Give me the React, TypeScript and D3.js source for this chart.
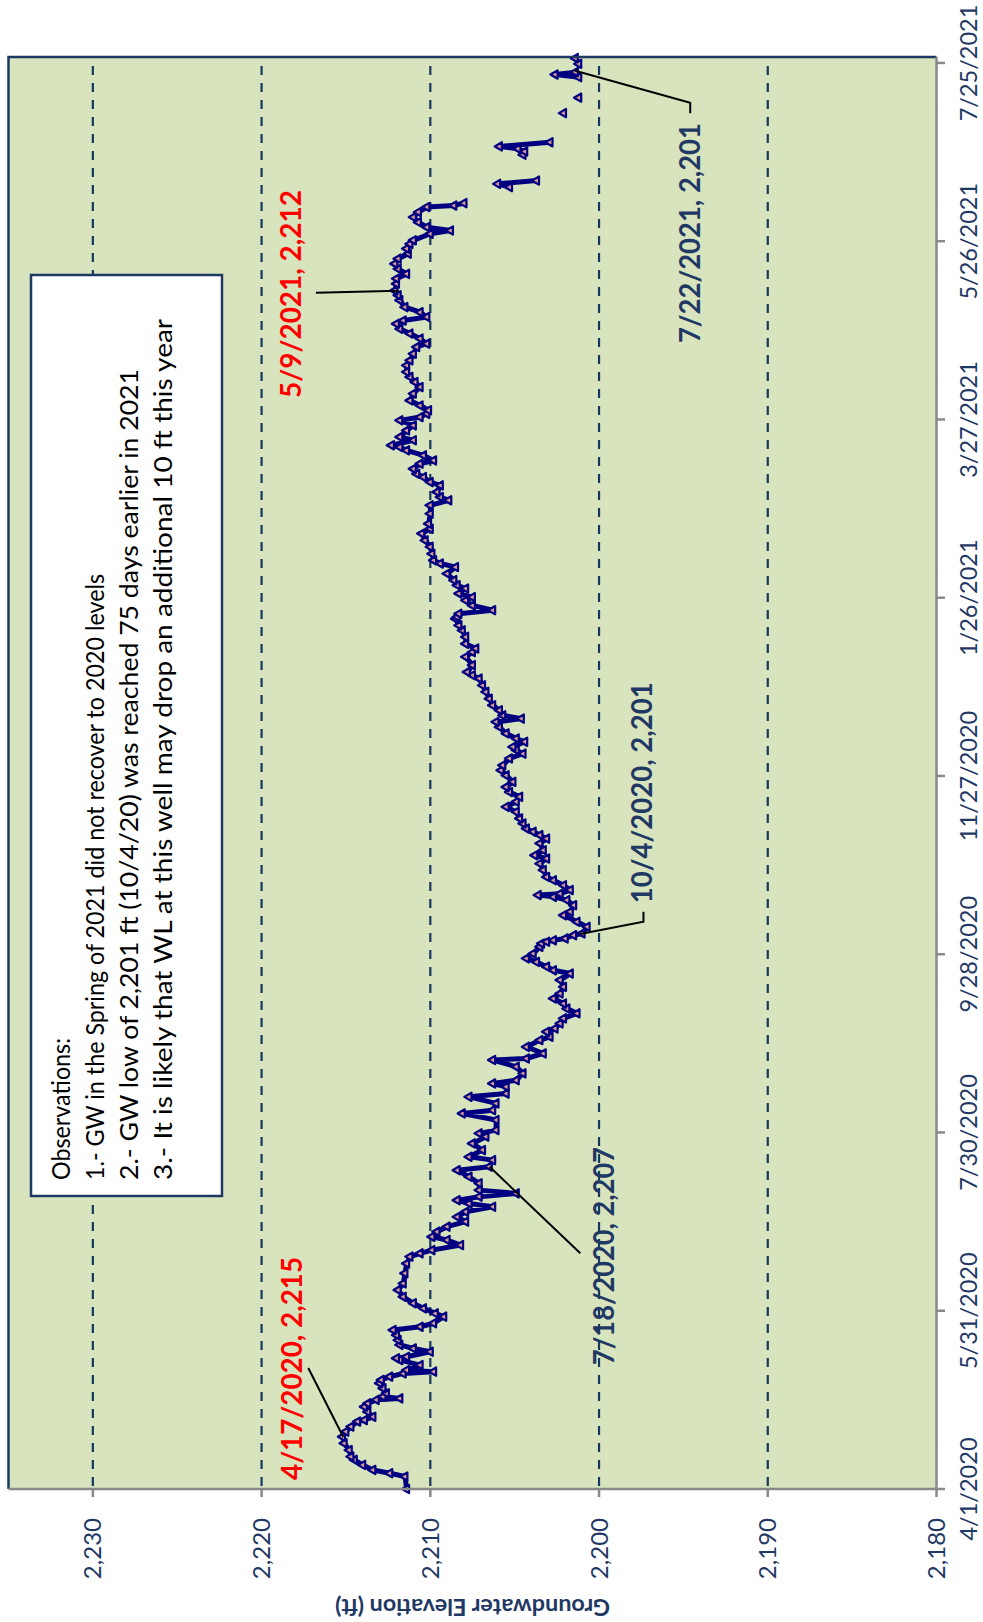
import React from "react";
import * as d3 from "d3";

// Readings: [days since START, groundwater elevation (ft)]
const START = "2020-04-01";

const readingsSpringSummer2020: [number, number][] = [
  [0, 2211.4], [4.2, 2211.5], [5.3, 2212.4], [6.4, 2213.4], [8.1, 2214.0], [9.8, 2214.5], [10.9, 2214.7],
  [13.1, 2214.8], [15.4, 2215.1], [17.6, 2215.2], [19.3, 2215.0], [21.0, 2214.7], [22.7, 2214.3], [23.2, 2213.9],
  [24.3, 2213.4], [26.0, 2213.7], [27.7, 2213.9], [28.8, 2213.7], [30.0, 2213.2], [30.5, 2211.8], [31.1, 2212.8],
  [32.2, 2212.6], [33.9, 2212.8], [35.6, 2213.0], [36.7, 2212.9], [37.8, 2212.4], [38.9, 2211.6], [39.5, 2209.8],
  [40.0, 2211.4], [41.7, 2210.6], [43.4, 2211.8], [44.0, 2212.0], [44.5, 2211.4], [46.2, 2210.0], [47.3, 2211.0],
  [48.5, 2211.8], [50.1, 2211.9], [51.8, 2212.0], [53.5, 2212.2], [54.6, 2210.6], [55.8, 2209.8], [58.0, 2209.2],
  [59.1, 2209.7], [60.8, 2210.4], [62.5, 2211.0], [64.7, 2211.6], [67.0, 2211.9], [69.2, 2211.6], [72.6, 2211.5],
  [75.9, 2211.4], [78.2, 2211.2], [79.3, 2210.6], [80.4, 2209.9], [82.1, 2208.2], [83.8, 2209.0], [84.9, 2209.9],
  [86.6, 2209.6], [88.3, 2209.0], [90.0, 2207.9], [91.6, 2208.4], [93.3, 2207.9], [95.0, 2206.3], [96.1, 2207.7],
  [97.2, 2208.4], [98.4, 2207.1], [99.5, 2204.9], [100.6, 2207.1], [102.9, 2207.1], [105.1, 2207.7], [107.3, 2208.4],
  [108.5, 2206.5], [110.7, 2206.3], [111.8, 2207.7], [114.1, 2206.9], [116.3, 2207.5], [118.6, 2206.7], [119.7, 2207.1],
  [120.8, 2206.1], [124.2, 2206.1], [126.4, 2208.1], [127.5, 2206.3], [129.8, 2206.1], [132.0, 2207.7], [133.1, 2205.5],
  [135.4, 2205.5], [136.5, 2206.3], [137.6, 2204.9], [139.9, 2204.5], [142.1, 2204.9], [144.4, 2206.3], [144.9, 2204.3],
  [146.6, 2203.3],
];

const readingsFall2020: [number, number][] = [
  [148.8, 2204.3], [151.1, 2203.5], [152.2, 2202.9], [153.9, 2203.1], [155.0, 2202.6], [156.7, 2202.3], [158.4, 2202.1],
  [160.1, 2201.3], [161.7, 2201.9], [163.4, 2202.1], [165.1, 2202.7], [166.8, 2202.3], [169.0, 2202.1], [171.3, 2202.3],
  [173.5, 2201.7], [174.6, 2202.7], [175.8, 2203.1], [177.4, 2203.7], [178.6, 2204.3], [180.2, 2203.9], [182.5, 2203.5],
  [183.6, 2203.4], [184.2, 2203.1], [184.7, 2202.7], [185.3, 2202.0], [186.4, 2201.5], [187.0, 2201.0], [189.2, 2200.7],
  [190.9, 2201.3], [193.1, 2202.1], [194.3, 2201.7], [196.5, 2201.5], [198.2, 2201.9], [199.3, 2202.7], [199.9, 2203.6],
  [200.4, 2202.3], [201.6, 2201.7], [203.2, 2202.1], [204.9, 2202.7], [206.0, 2203.1], [208.3, 2203.3], [210.5, 2203.5],
  [212.2, 2203.1], [213.3, 2203.8], [215.0, 2203.3], [217.3, 2203.5], [218.9, 2203.1], [220.1, 2203.5], [221.2, 2203.9],
  [222.3, 2204.3], [224.0, 2204.5], [225.7, 2204.7], [227.9, 2204.9], [229.6, 2205.5], [231.3, 2204.9], [233.0, 2204.7],
  [234.6, 2205.3], [236.3, 2205.5], [238.0, 2205.1], [240.2, 2205.5], [241.9, 2205.8], [243.6, 2205.7], [245.9, 2205.3],
  [247.5, 2204.5], [248.7, 2204.9], [249.8, 2205.1], [251.5, 2204.4], [252.6, 2204.9], [254.3, 2205.5], [256.5, 2205.9],
  [258.2, 2206.1], [259.3, 2204.6], [260.4, 2205.7], [262.1, 2205.9], [263.8, 2206.3], [266.0, 2206.5], [268.3, 2206.7],
  [270.5, 2206.9], [272.8, 2207.1], [273.9, 2207.5], [275.0, 2207.8], [277.3, 2207.5], [280.1, 2207.9], [281.7, 2207.5],
  [282.9, 2207.3], [284.5, 2207.9], [286.8, 2207.9], [289.0, 2208.1], [290.7, 2208.3], [292.9, 2208.5],
];

const readingsWinterSpring2021: [number, number][] = [
  [293.5, 2208.4], [294.6, 2208.3], [295.8, 2206.3], [297.4, 2207.5], [299.1, 2207.9], [300.2, 2207.5], [301.4, 2208.3],
  [303.1, 2207.9], [304.2, 2208.4], [305.9, 2208.6], [308.1, 2209.0], [310.3, 2208.5], [311.5, 2209.4], [312.6, 2209.8],
  [314.8, 2209.9], [317.1, 2210.0], [319.3, 2210.3], [321.6, 2210.5], [323.2, 2210.0], [324.9, 2210.1], [328.3, 2210.0],
  [331.1, 2210.0], [332.8, 2208.9], [333.9, 2209.4], [335.6, 2209.6], [337.8, 2209.4], [338.9, 2210.0], [340.6, 2210.4],
  [341.7, 2210.8], [343.4, 2211.0], [345.1, 2210.6], [346.2, 2209.8], [347.9, 2210.4], [349.6, 2211.4], [350.7, 2211.8],
  [351.3, 2212.3], [353.0, 2211.0], [354.1, 2211.8], [356.3, 2211.4], [358.0, 2211.0], [359.7, 2211.8], [360.8, 2210.6],
  [361.9, 2210.2], [363.1, 2210.1], [364.7, 2210.6], [366.4, 2211.2], [368.7, 2211.0], [370.9, 2210.6], [372.6, 2210.9],
  [374.3, 2211.2], [376.0, 2211.4], [378.2, 2211.4], [379.9, 2211.2], [382.1, 2211.0], [384.4, 2210.8], [385.5, 2210.2],
  [387.2, 2210.6], [388.9, 2211.2], [390.5, 2211.8], [392.2, 2212.0], [393.3, 2211.6], [394.5, 2210.2], [396.1, 2210.6],
  [397.8, 2211.5], [400.1, 2211.8], [401.8, 2211.9], [403.4, 2212.1], [405.7, 2212.0], [407.4, 2212.0], [409.0, 2211.4],
  [410.7, 2211.9], [412.4, 2212.1], [414.1, 2211.9], [415.8, 2211.3], [417.5, 2211.4], [419.1, 2211.2], [420.3, 2211.0],
  [422.5, 2210.0], [423.6, 2208.8], [424.7, 2210.2], [426.4, 2210.7], [428.1, 2211.0], [429.8, 2210.7], [431.5, 2210.2],
  [432.0, 2208.6], [432.8, 2208.0],
];

const readingsJune2021: [number, number][] = [[438.2, 2205.3], [439.3, 2206.0], [440.4, 2203.7]];
const readingsEarlyJuly2021: [number, number][] = [[449.1, 2204.5], [450.2, 2204.4], [451.1, 2204.8], [451.9, 2205.9], [453.3, 2202.9]];
const readingsMidJuly2021a: [number, number][] = [[463.1, 2202.1]];
const readingsMidJuly2021b: [number, number][] = [[468.3, 2201.2]];
const readingsLateJuly2021a: [number, number][] = [[475.2, 2201.2], [476.1, 2202.6], [476.9, 2201.4]];
const readingsLateJuly2021b: [number, number][] = [[479.7, 2201.2], [481.6, 2201.4]];

const valueTicks = [2180, 2190, 2200, 2210, 2220, 2230];
const dateTicks = [
  "2020-04-01", "2020-05-31", "2020-07-30", "2020-09-28", "2020-11-27",
  "2021-01-26", "2021-03-27", "2021-05-26", "2021-07-25",
];
const annotationDates = ["2020-04-17", "2020-07-18", "2020-10-04", "2021-05-09", "2021-07-22"];
const annotationValues = [2215.2, 2206.6, 2201.0, 2212.1, 2201.3];
const observationLines = [
  "Observations:",
  "1.- GW in the Spring of 2021 did not recover to 2020 levels",
  "2.- GW low of 2,201 ft (10/4/20) was reached 75 days earlier in 2021",
  "3.- It is likely that WL at this well may drop an additional 10 ft this year",
];
const yAxisTitle = "Groundwater Elevation (ft)";

const FONT = "Lato, 'Open Sans', 'DejaVu Sans', sans-serif";
const NAVY = "#000080";
const TXT = "#1F3864";
const RED = "#FF0000";

export default function App() {
  const FW = 1622; // landscape frame width (rotated to page height)
  const parse = d3.utcParse("%Y-%m-%d");
  const start = parse(START)!;
  const DAY = 864e5;
  const toDate = (d: number) => new Date(start.getTime() + d * DAY);

  const x = d3.scaleUtc().domain([start, toDate(482)]).range([133, 1565]);
  const y = d3.scaleLinear().domain([2180, 2235]).range([936.5, 8.5]);

  const runs: [number, number][][] = [
    [...readingsSpringSummer2020, ...readingsFall2020, ...readingsWinterSpring2021],
    readingsJune2021,
    readingsEarlyJuly2021,
    readingsMidJuly2021a,
    readingsMidJuly2021b,
    readingsLateJuly2021a,
    readingsLateJuly2021b,
  ];
  const line = d3
    .line<[number, number]>()
    .x((d) => x(toDate(d[0])))
    .y((d) => y(d[1]));
  const tri = d3.symbol().type(d3.symbolTriangle).size(30)() as string;
  const fmtDate = d3.utcFormat("%-m/%-d/%Y");
  const fmtVal = d3.format(",.0f");

  const annoLayout = [
    { color: RED, dx: -38.5, dy: -40.3, anchor: "start", len: 223, leader: [[73.5, -34.3], [4.5, 0.7]] },
    { color: TXT, dx: -196.9, dy: 126.6, anchor: "start", len: 218, leader: [[-85.2, 92.6], [1.4, 1.9]] },
    { color: TXT, dx: 33.1, dy: 70, anchor: "start", len: 221, leader: [[24.7, 61.3], [14.7, 61.3], [2.4, -2]] },
    { color: RED, dx: -2.3, dy: -93.6, anchor: "middle", len: 208, leader: [[-1.1, -79], [0.9, 3.8]] },
    { color: TXT, dx: -51.2, dy: 123.1, anchor: "end", len: 220, leader: [[-41.5, 113.1], [-30.9, 113.1], [1.1, -1.9]] },
  ];

  const obsLens = [142, 606, 811, 861];
  const obsBase = [70, 104, 138, 172];

  const [u0, u1] = x.range();
  const [vB, vT] = y.range();

  return (
    <svg
      width={983}
      height={1622}
      style={{ position: "absolute", left: 0, top: 0, background: "#fff" }}
      fontFamily={FONT}
    >
      <g transform={`translate(0,${FW}) rotate(-90)`}>
        {/* plot background */}
        <rect x={u0} y={vT} width={u1 - u0} height={vB - vT} fill="#D7E4BD" />
        {/* grid */}
        {valueTicks.slice(1).map((v) => (
          <line key={v} x1={u1 - 9} x2={u0} y1={y(v)} y2={y(v)} stroke="#17375E" strokeWidth={2.2} strokeDasharray="9,8" />
        ))}
        {/* series */}
        {runs.map((r, i) => (
          <path key={i} d={line(r) || ""} fill="none" stroke={NAVY} strokeWidth={5} strokeLinejoin="round" strokeLinecap="round" />
        ))}
        {runs.flat().map((d, i) => (
          <path
            key={"m" + i}
            d={tri}
            transform={`translate(${x(toDate(d[0]))},${y(d[1])})`}
            fill="#D99A94"
            stroke={NAVY}
            strokeWidth={2.2}
            strokeLinejoin="round"
          />
        ))}
        {/* annotations */}
        {annotationDates.map((ds, i) => {
          const L = annoLayout[i];
          const px = x(parse(ds)!);
          const py = y(annotationValues[i]);
          const pts = L.leader.map(([a, b]) => [px + a, py + b] as [number, number]);
          return (
            <g key={ds}>
              <path d={d3.line()(pts) || ""} fill="none" stroke="#000" strokeWidth={2} />
              <text
                x={px + L.dx}
                y={py + L.dy}
                textAnchor={L.anchor as any}
                fill={L.color}
                fontSize={28}
                fontWeight="bold"
                textLength={L.len}
                lengthAdjust="spacingAndGlyphs"
              >
                {`${fmtDate(parse(ds)!)}, ${fmtVal(annotationValues[i])}`}
              </text>
            </g>
          );
        })}
        {/* observations box */}
        <rect x={426} y={31} width={921} height={191} fill="#fff" stroke="#1F3864" strokeWidth={2.5} />
        {observationLines.map((t, i) => (
          <text key={i} x={442} y={obsBase[i]} fontSize={25} fill="#000" textLength={obsLens[i]} lengthAdjust="spacingAndGlyphs">
            {t}
          </text>
        ))}
        {/* plot border (top/right) */}
        <path d={`M${u0},${vT}H${u1}V${vB}`} fill="none" stroke="#1F3864" strokeWidth={2.5} />
        {/* axes */}
        <line x1={u0} x2={u1} y1={vB} y2={vB} stroke="#898989" strokeWidth={2.5} />
        <line x1={u0} x2={u0} y1={vT} y2={vB} stroke="#898989" strokeWidth={2.5} />
        {dateTicks.map((ds) => {
          const u = x(parse(ds)!);
          return (
            <g key={ds}>
              <line x1={u} x2={u} y1={vB} y2={vB + 8.5} stroke="#898989" strokeWidth={2.5} />
              <text x={u} y={977} textAnchor="middle" fontSize={23.5} fill={TXT}>
                {fmtDate(parse(ds)!)}
              </text>
            </g>
          );
        })}
        {valueTicks.map((v) => (
          <g key={v}>
            <line x1={u0} x2={u0 - 8} y1={y(v)} y2={y(v)} stroke="#898989" strokeWidth={2.5} />
            <text x={104} y={y(v) + 8.5} textAnchor="end" fontSize={24} fill={TXT}>
              {d3.format(",")(v)}
            </text>
          </g>
        ))}
        <text
          transform={`translate(23,${(vT + vB) / 2}) rotate(-90)`}
          textAnchor="middle"
          fontSize={22}
          fontWeight="bold"
          fill={TXT}
          textLength={275}
          lengthAdjust="spacingAndGlyphs"
        >
          {yAxisTitle}
        </text>
      </g>
    </svg>
  );
}
